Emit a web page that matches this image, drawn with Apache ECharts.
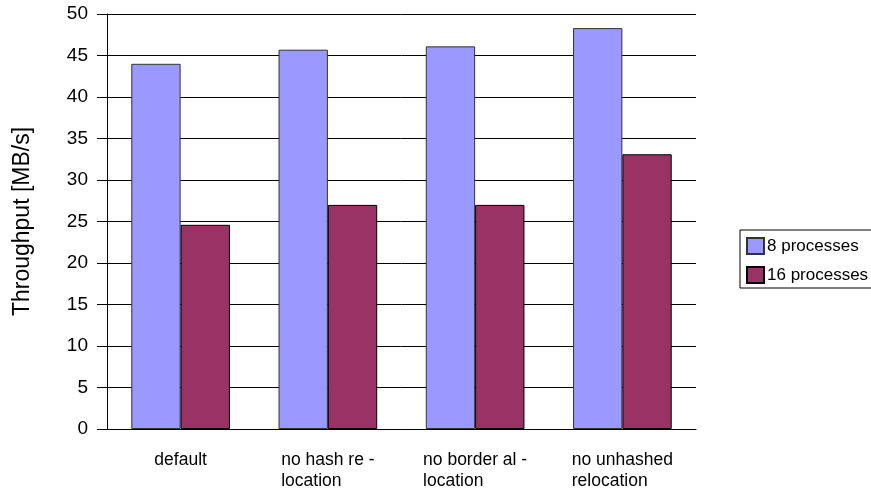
<!DOCTYPE html>
<html>
<head>
<meta charset="utf-8">
<script src="https://cdn.jsdelivr.net/npm/echarts@6/dist/echarts.min.js"></script>
<style>
  html, body { margin: 0; padding: 0; background: #fff; }
  #chart { width: 871px; height: 491px; }
</style>
</head>
<body>
<div id="chart"></div>
<script>
// data
var categories = ['default', 'no hash re -\nlocation', 'no border al -\nlocation', 'no unhashed\nrelocation'];
var seriesNames = ['8 processes', '16 processes'];
var procs8 = [44.0, 45.7, 46.1, 48.3];
var procs16 = [24.6, 27.0, 27.0, 33.1];
var yTicks = { min: 0, max: 50, interval: 5 };

var font = '"Liberation Sans", Arial, sans-serif';

var chart = echarts.init(document.getElementById('chart'));
chart.setOption({
    animation: false,
    textStyle: { fontFamily: font, color: '#000' },
    grid: { left: 107, right: 175, top: 14, bottom: 62 },
    legend: {
        data: seriesNames,
        orient: 'vertical',
        left: 740,
        top: 230,
        padding: [7, 10, 4, 6],
        itemGap: 11,
        itemWidth: 17,
        itemHeight: 16,
        icon: 'rect',
        borderColor: '#000',
        borderWidth: 1,
        textStyle: { fontFamily: font, fontSize: 17, lineHeight: 16, color: '#000', padding: [0, 0, 0, -2] }
    },
    xAxis: {
        type: 'category',
        data: categories,
        axisLine: { lineStyle: { color: '#000', width: 1 } },
        axisTick: { length: 10, lineStyle: { color: '#000' } },
        axisLabel: {
            margin: 21,
            formatter: function (v) {
                return v.split('\n').map(function (s) { return '{a|' + s + '}'; }).join('\n');
            },
            rich: {
                a: { fontFamily: font, fontSize: 17.5, lineHeight: 21, color: '#000', align: 'left' }
            }
        }
    },
    yAxis: {
        type: 'value',
        min: yTicks.min,
        max: yTicks.max,
        interval: yTicks.interval,
        name: 'Throughput [MB/s]',
        nameLocation: 'middle',
        nameGap: 73,
        nameTextStyle: { fontFamily: font, fontSize: 23, color: '#000' },
        axisLine: { show: true, lineStyle: { color: '#000', width: 1 } },
        axisTick: { show: true, length: 10, lineStyle: { color: '#000' } },
        axisLabel: { margin: 19, fontFamily: font, fontSize: 19, color: '#000' },
        splitLine: { lineStyle: { color: '#000', width: 1 } }
    },
    series: [
        {
            name: seriesNames[0],
            type: 'bar',
            data: procs8,
            barGap: '0%',
            barCategoryGap: '33%',
            itemStyle: { color: '#9999FF', borderColor: '#333', borderWidth: 1 }
        },
        {
            name: seriesNames[1],
            type: 'bar',
            data: procs16,
            barGap: '0%',
            barCategoryGap: '33%',
            itemStyle: { color: '#993366', borderColor: '#000', borderWidth: 1 }
        }
    ]
});
</script>
</body>
</html>
